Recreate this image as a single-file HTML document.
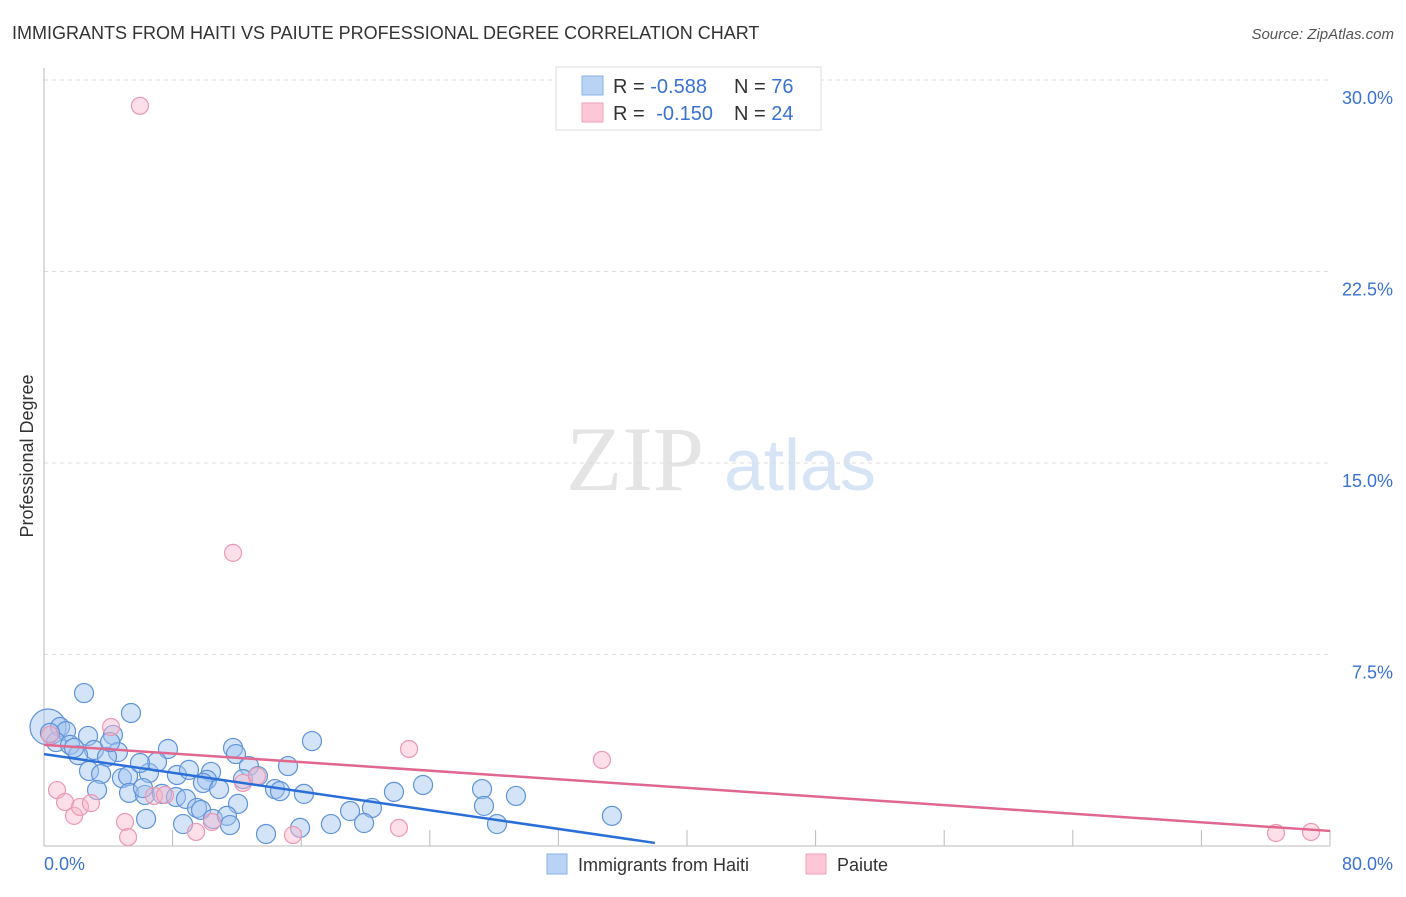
<!DOCTYPE html>
<html><head><meta charset="utf-8"><style>
body{margin:0;background:#fff;font-family:"Liberation Sans",sans-serif}
</style></head><body>
<svg width="1406" height="892" xmlns="http://www.w3.org/2000/svg" style="font-family:'Liberation Sans',sans-serif">
<text x="12" y="39" font-size="18" fill="#333">IMMIGRANTS FROM HAITI VS PAIUTE PROFESSIONAL DEGREE CORRELATION CHART</text>
<text x="1394" y="39" font-size="15" fill="#555" font-style="italic" text-anchor="end">Source: ZipAtlas.com</text>
<text x="33" y="456" font-size="18" fill="#333" text-anchor="middle" transform="rotate(-90 33 456)">Professional Degree</text>
<g><text x="635" y="490" font-size="92" fill="#e4e4e4" font-family="Liberation Serif,serif" text-anchor="middle">ZIP</text><text x="800" y="490" font-size="72" fill="#d6e4f6" text-anchor="middle">atlas</text></g>
<g id="grid"></g><g id="axes"></g><g id="pts"></g><g id="lines"></g>
<g>
<rect x="556" y="67" width="265" height="63" fill="#fff" stroke="#ddd"/>
<rect x="582" y="76" width="21" height="19" fill="#b9d3f5" stroke="#8ab2e8"/>
<rect x="582" y="103" width="21" height="19" fill="#fcc8d8" stroke="#f0a0ba"/>
<text x="613" y="93" font-size="20" fill="#333">R = <tspan fill="#3a72d0">-0.588</tspan><tspan x="734">N = </tspan><tspan fill="#3a72d0">76</tspan></text>
<text x="613" y="120" font-size="20" fill="#333">R = <tspan fill="#3a72d0" dx="6">-0.150</tspan><tspan x="734">N = </tspan><tspan fill="#3a72d0">24</tspan></text>
</g>
<g>
<rect x="547" y="854" width="20" height="20" fill="#b9d3f5" stroke="#8ab2e8"/>
<text x="578" y="871" font-size="18" fill="#333">Immigrants from Haiti</text>
<rect x="806" y="854" width="20" height="20" fill="#fcc8d8" stroke="#f0a0ba"/>
<text x="837" y="871" font-size="18" fill="#333">Paiute</text>
</g>
</svg>
<script>
const yTicks=[7.5,15,22.5,30];
const yTickLabels=["7.5%","15.0%","22.5%","30.0%"];
const xTickVals=[8,16,24,32,40,48,56,64,72,80];
const xLabels=["0.0%","80.0%"];
const haitiX=[2.49,5.41,0.25,1.0,1.37,2.74,4.29,0.75,1.62,3.11,4.60,2.12,3.92,7.71,11.76,16.67,11.94,2.80,3.55,4.85,5.23,6.53,7.03,5.97,8.27,9.02,10.39,12.75,15.18,3.30,5.29,6.28,7.34,8.21,8.83,10.14,9.89,10.89,12.38,13.31,14.37,14.68,16.17,12.07,9.52,9.77,10.51,11.38,11.57,8.65,6.35,19.04,20.40,19.91,17.85,15.93,13.81,21.77,23.58,27.25,27.37,29.36,28.18,35.33,6.16,4.11,1.87,0.37];
const haitiY=[5.99,5.21,4.66,4.66,4.50,4.31,4.35,4.07,3.96,3.76,3.68,3.56,3.49,3.80,3.84,4.11,3.60,2.94,2.82,2.66,2.74,2.86,3.29,3.25,2.78,2.98,2.90,3.13,3.13,2.19,2.08,2.00,2.04,1.92,1.84,2.59,2.47,2.23,2.62,2.74,2.23,2.15,2.04,1.65,1.49,1.41,1.06,1.18,0.82,0.86,1.06,1.37,1.49,0.90,0.86,0.71,0.47,2.12,2.39,2.23,1.57,1.96,0.86,1.18,2.27,4.07,3.84,4.43];
const paiuteX=[5.97,11.76,4.17,22.71,34.71,0.81,1.31,1.87,2.24,2.92,5.04,5.23,9.46,10.45,12.38,13.25,6.84,7.53,15.49,22.08,76.64,78.82,0.37];
const paiuteY=[28.99,11.48,4.66,3.80,3.37,2.19,1.72,1.18,1.53,1.68,0.94,0.35,0.55,0.94,2.47,2.74,1.96,2.00,0.43,0.71,0.51,0.55,4.35];
const haitiTrend=[[0,3.6],[38,0.12]];
const paiuteTrend=[[0,3.96],[80,0.59]];
const NS="http://www.w3.org/2000/svg";
const X0=44,X1=1330,Y0=846,PX=(X1-X0)/80,PY=(Y0-80)/30;
const sx=v=>X0+v*PX, sy=v=>Y0-v*PY;
function mk(t,a,p){const e=document.createElementNS(NS,t);for(const k in a)e.setAttribute(k,a[k]);p.appendChild(e);return e;}
const grid=document.getElementById('grid'),axes=document.getElementById('axes'),pts=document.getElementById('pts'),lines=document.getElementById('lines');
yTicks.forEach((v,i)=>{
 const l=mk('line',{x1:X0,x2:X1,y1:sy(v),y2:sy(v),stroke:'#ddd','stroke-dasharray':'4,4'},grid);
 
 
 const t=mk('text',{x:1393,y:sy(v)+24,'font-size':18,fill:'#3a72d0','text-anchor':'end'},axes);
 t.textContent=yTickLabels[i];
 
 
});
const ya=mk('line',{x1:X0,x2:X0,y1:68,y2:Y0,stroke:'#bbb'},axes);


const xa=mk('line',{x1:X0,x2:X1,y1:Y0,y2:Y0,stroke:'#bbb'},axes);


xTickVals.forEach(v=>{
 const l=mk('line',{x1:sx(v),x2:sx(v),y1:Y0-16,y2:Y0,stroke:'#bbb'},axes);
 
 
});
const xl0=mk('text',{x:44,y:870,'font-size':18,fill:'#3a72d0'},axes);xl0.textContent=xLabels[0];


const xl1=mk('text',{x:1393,y:870,'font-size':18,fill:'#3a72d0','text-anchor':'end'},axes);xl1.textContent=xLabels[1];


haitiX.forEach((v,i)=>{
 const c=mk('circle',{cx:sx(v),cy:sy(haitiY[i]),r:i===2?18:9.5,fill:'rgba(160,196,240,0.45)',stroke:'#5f93d9','stroke-width':1.2},pts);
 
 
});
paiuteX.forEach((v,i)=>{
 const c=mk('circle',{cx:sx(v),cy:sy(paiuteY[i]),r:8.5,fill:'rgba(248,185,205,0.45)',stroke:'#eb98b2','stroke-width':1.2},pts);
 
 
});
const tb=mk('line',{x1:sx(haitiTrend[0][0]),y1:sy(haitiTrend[0][1]),x2:sx(haitiTrend[1][0]),y2:sy(haitiTrend[1][1]),stroke:'#2a6fd8','stroke-width':2.5},lines);


const tp=mk('line',{x1:sx(paiuteTrend[0][0]),y1:sy(paiuteTrend[0][1]),x2:sx(paiuteTrend[1][0]),y2:sy(paiuteTrend[1][1]),stroke:'#e0688f','stroke-width':2.5},lines);


</script>
</body></html>
